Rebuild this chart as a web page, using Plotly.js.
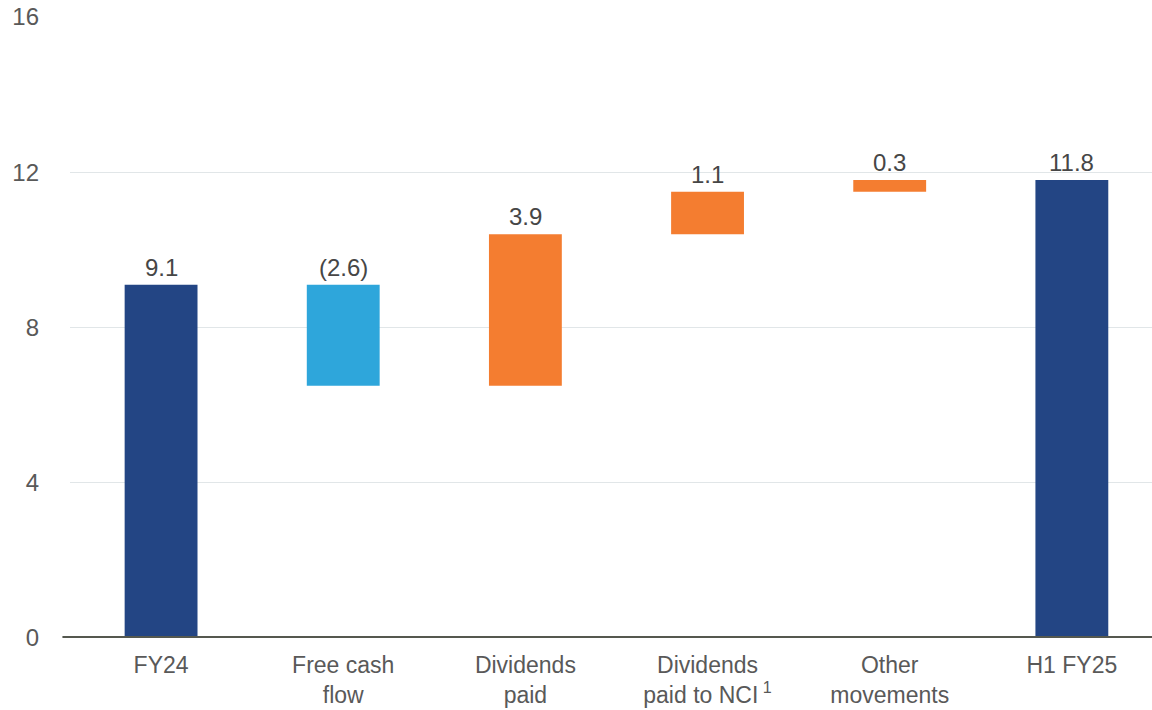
<!DOCTYPE html>
<html><head><meta charset="utf-8">
<script src="https://cdn.plot.ly/plotly-3.0.1.min.js"></script>
<style>html,body{margin:0;padding:0;background:#fff}#c{width:1152px;height:710px}</style>
</head><body><div id="c"></div>
<script>
const categories = ["FY24", "Free cash<br>flow", "Dividends<br>paid", "Dividends<br>paid to NCI<sup> 1</sup>", "Other<br>movements", "H1 FY25"];
const bases = [0, 9.1, 6.5, 10.4, 11.5, 0];
const deltas = [9.1, -2.6, 3.9, 1.1, 0.3, 11.8];
const labels = ["9.1", "(2.6)", "3.9", "1.1", "0.3", "11.8"];
const colors = ["#234584", "#2ea6db", "#f47d30", "#f47d30", "#f47d30", "#234584"];
const yTicks = [0, 4, 8, 12, 16];

const xs = categories.map((_, i) => i);
const tops = bases.map((b, i) => Math.max(b, b + deltas[i]));

const trace = {
  type: "bar", x: xs, y: deltas, base: bases,
  marker: {color: colors, line: {width: 0}},
  width: 0.4, hoverinfo: "skip"
};

const annotations = xs.map((x, i) => ({
  x: x, y: tops[i], xref: "x", yref: "y", text: labels[i],
  showarrow: false, yanchor: "bottom", yshift: 2,
  font: {family: "Liberation Sans, Arial, sans-serif", size: 24, color: "#464646"}
}));

const layout = {
  width: 1152, height: 710,
  margin: {l: 70, r: 0, t: 17, b: 72},
  paper_bgcolor: "#fff", plot_bgcolor: "#fff",
  showlegend: false,
  font: {family: "Liberation Sans, Arial, sans-serif", size: 24, color: "#595959"},
  xaxis: {
    range: [-0.5, 5.44], tickvals: xs, ticktext: categories,
    showgrid: false, zeroline: false, showline: false, ticks: "",
    ticklabelstandoff: 11,
    tickfont: {size: 23, color: "#595959"}, fixedrange: true
  },
  yaxis: {
    range: [0, 16], tickvals: yTicks, ticktext: yTicks.map(String),
    showgrid: true, gridcolor: "#e1e6e8", gridwidth: 1,
    zeroline: false, showline: false, ticks: "",
    ticklabelstandoff: 30,
    tickfont: {size: 24, color: "#595959"}, fixedrange: true
  },
  shapes: [{
    type: "line", xref: "paper", yref: "y", x0: -0.007, x1: 1, y0: 0, y1: 0,
    line: {color: "#55584f", width: 4}
  }],
  annotations: annotations
};

Plotly.newPlot("c", [trace], layout, {displayModeBar: false, staticPlot: true});
</script></body></html>
